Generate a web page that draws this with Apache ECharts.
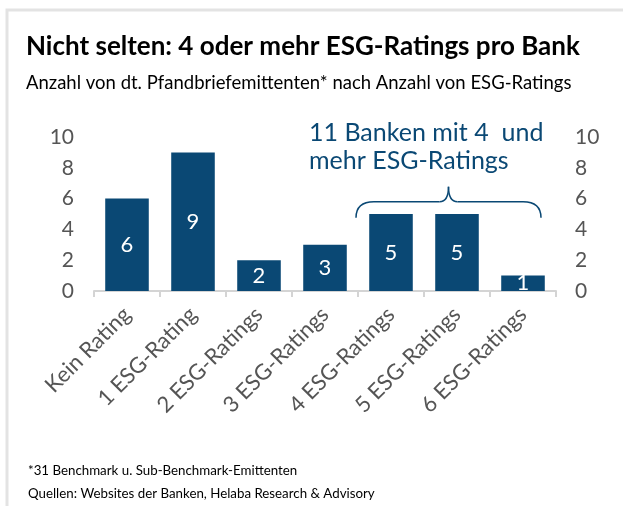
<!DOCTYPE html>
<html>
<head>
<meta charset="utf-8">
<script src="https://cdn.jsdelivr.net/npm/echarts@6/dist/echarts.min.js"></script>
<style>
html, body { margin: 0; padding: 0; background: #fff; }
#main { width: 623px; height: 506px; }
</style>
</head>
<body>
<div id="main"></div>
<script>
// Daten
var kategorien = ['Kein Rating', '1 ESG-Rating', '2 ESG-Ratings', '3 ESG-Ratings', '4 ESG-Ratings', '5 ESG-Ratings', '6 ESG-Ratings'];
var anzahl = [6, 9, 2, 3, 5, 5, 1];
var yMax = 10;
var yStep = 2;

var blau = '#0a4874';
var grau = '#555555';
var schrift = 'Lato';

var myChart = echarts.init(document.getElementById('main'));

var yAchse = function (pos) {
    return {
        type: 'value',
        position: pos,
        min: 0,
        max: yMax,
        interval: yStep,
        axisLine: { show: false },
        axisTick: { show: false },
        splitLine: { show: false },
        axisLabel: { color: grau, fontSize: 21, fontFamily: schrift, margin: pos === 'left' ? 20 : 19 }
    };
};

myChart.setOption({
    animation: false,
    textStyle: { fontFamily: schrift },
    title: [{
        text: 'Nicht selten: 4 oder mehr ESG-Ratings pro Bank',
        left: 21, top: 29,
        textStyle: { fontSize: 26, fontWeight: 'bold', color: '#000', fontFamily: schrift }
    }, {
        text: 'Anzahl von dt. Pfandbriefemittenten* nach Anzahl von ESG-Ratings',
        left: 21, top: 69,
        textStyle: { fontSize: 18.5, fontWeight: 'normal', color: '#000', fontFamily: schrift }
    }, {
        text: '*31 Benchmark u. Sub-Benchmark-Emittenten',
        left: 23, top: 459,
        textStyle: { fontSize: 13.3, fontWeight: 'normal', color: '#000', fontFamily: schrift }
    }, {
        text: 'Quellen: Websites der Banken, Helaba Research & Advisory',
        left: 23, top: 482,
        textStyle: { fontSize: 13.3, fontWeight: 'normal', color: '#000', fontFamily: schrift }
    }],
    grid: { left: 94, right: 67, top: 137, bottom: 215 },
    xAxis: {
        type: 'category',
        data: kategorien,
        axisLine: { lineStyle: { color: '#d4d4d4', width: 2 } },
        axisTick: { show: true, length: 6, lineStyle: { color: '#d4d4d4', width: 2 } },
        axisLabel: { rotate: 45, color: grau, fontSize: 22, fontFamily: schrift, margin: 20, interval: 0 }
    },
    yAxis: [yAchse('left'), yAchse('right')],
    series: [{
        type: 'bar',
        data: anzahl,
        barWidth: '66%',
        itemStyle: { color: blau },
        label: {
            show: true,
            position: 'inside',
            color: '#fff',
            fontSize: 22,
            fontFamily: schrift
        }
    }]
});

// Klammer ueber 4-6 Ratings und Rahmen
function zeichneExtras() {
    var links = myChart.convertToPixel({ xAxisIndex: 0 }, 4);
    var rechts = myChart.convertToPixel({ xAxisIndex: 0 }, 6);
    var breite = myChart.convertToPixel({ xAxisIndex: 0 }, 1) - myChart.convertToPixel({ xAxisIndex: 0 }, 0);
    var x1 = links - breite / 2 - 2;
    var x2 = rechts + breite / 2 - 15;
    var xm = (x1 + x2) / 2;
    var yb = myChart.convertToPixel({ yAxisIndex: 0 }, 5.8);
    var yo = yb - 15;
    var yu = yb + 16;
    var r = 9;
    var linie = { fill: 'none', stroke: blau, lineWidth: 1.5 };

    myChart.setOption({
        graphic: [{
            type: 'rect',
            shape: { x: 7, y: 10, width: 700, height: 600 },
            style: { fill: 'none', stroke: '#e3e3e3', lineWidth: 3 },
            silent: true
        }, {
            type: 'bezierCurve',
            shape: { x1: x1, y1: yu, cpx1: x1, cpy1: yb, x2: x1 + r * 2, y2: yb },
            style: linie, silent: true
        }, {
            type: 'line',
            shape: { x1: x1 + r * 2, y1: yb, x2: xm - r, y2: yb },
            style: linie, silent: true
        }, {
            type: 'bezierCurve',
            shape: { x1: xm - r, y1: yb, cpx1: xm, cpy1: yb, x2: xm, y2: yo },
            style: linie, silent: true
        }, {
            type: 'bezierCurve',
            shape: { x1: xm, y1: yo, cpx1: xm, cpy1: yb, x2: xm + r, y2: yb },
            style: linie, silent: true
        }, {
            type: 'line',
            shape: { x1: xm + r, y1: yb, x2: x2 - r * 2, y2: yb },
            style: linie, silent: true
        }, {
            type: 'bezierCurve',
            shape: { x1: x2 - r * 2, y1: yb, cpx1: x2, cpy1: yb, x2: x2, y2: yu },
            style: linie, silent: true
        }, {
            type: 'text',
            left: 309, top: 119,
            style: {
                text: '11 Banken mit 4  und\nmehr ESG-Ratings',
                fill: blau,
                font: '25px Lato',
                lineHeight: 28
            },
            silent: true
        }]
    });
}
zeichneExtras();
</script>
</body>
</html>
